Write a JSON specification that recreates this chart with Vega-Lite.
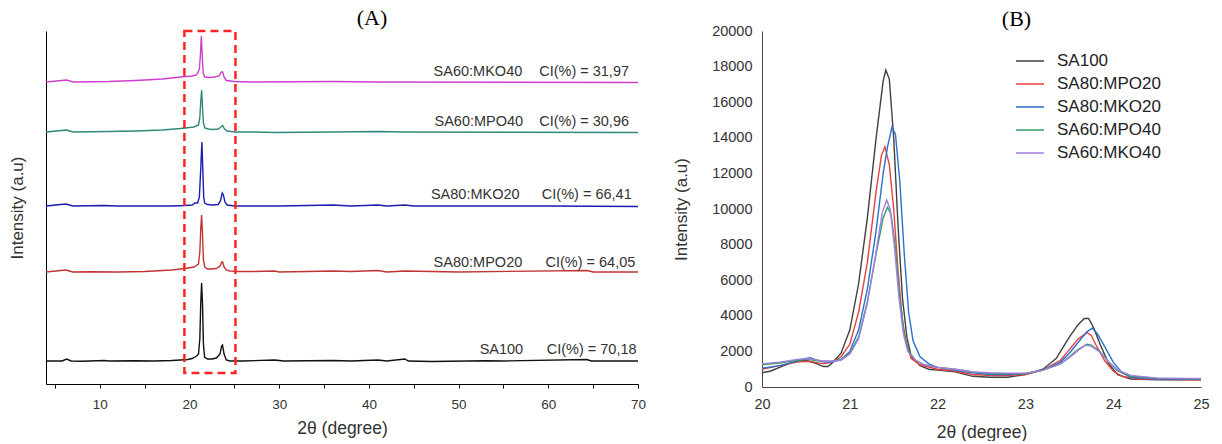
{
  "$schema": "https://vega.github.io/schema/vega-lite/v6.json",
  "padding": {"left": 8, "top": 6, "right": 4, "bottom": 0},
  "spacing": 26,
  "resolve": {"scale": {"color": "independent", "x": "independent", "y": "independent"}, "legend": {"color": "independent"}},
  "config": {
    "view": {"stroke": null},
    "font": "Liberation Sans",
    "axis": {"labelFont": "Liberation Sans", "titleFont": "Liberation Sans", "labelColor": "#333", "titleColor": "#333", "titleFontWeight": "normal", "grid": false, "labelFlush": false}
  },
  "datasets": {
    "a": [
      {"s":"SA100","x":4,"y":23},{"s":"SA100","x":5.8,"y":23},{"s":"SA100","x":6.3,"y":25},{"s":"SA100","x":6.8,"y":23},{"s":"SA100","x":8,"y":22.8},{"s":"SA100","x":10.5,"y":23.5},{"s":"SA100","x":11,"y":23},{"s":"SA100","x":14,"y":23.3},{"s":"SA100","x":16,"y":23},{"s":"SA100","x":18,"y":23.5},{"s":"SA100","x":19,"y":24},{"s":"SA100","x":19.8,"y":24.5},{"s":"SA100","x":20.3,"y":25.5},{"s":"SA100","x":20.8,"y":28},{"s":"SA100","x":21.0,"y":30},{"s":"SA100","x":21.15,"y":45},{"s":"SA100","x":21.25,"y":80},{"s":"SA100","x":21.35,"y":101},{"s":"SA100","x":21.45,"y":80},{"s":"SA100","x":21.55,"y":40},{"s":"SA100","x":21.68,"y":27},{"s":"SA100","x":22.0,"y":25},{"s":"SA100","x":22.5,"y":25},{"s":"SA100","x":23.0,"y":26},{"s":"SA100","x":23.4,"y":30},{"s":"SA100","x":23.58,"y":38},{"s":"SA100","x":23.68,"y":39},{"s":"SA100","x":23.85,"y":30},{"s":"SA100","x":24.1,"y":24},{"s":"SA100","x":24.5,"y":23},{"s":"SA100","x":26,"y":23},{"s":"SA100","x":29.5,"y":24},{"s":"SA100","x":30.5,"y":23},{"s":"SA100","x":36,"y":23.5},{"s":"SA100","x":38,"y":23},{"s":"SA100","x":41,"y":24},{"s":"SA100","x":42,"y":23},{"s":"SA100","x":44,"y":25},{"s":"SA100","x":44.4,"y":23},{"s":"SA100","x":47,"y":22.5},{"s":"SA100","x":51,"y":23},{"s":"SA100","x":53,"y":23.3},{"s":"SA100","x":55,"y":23},{"s":"SA100","x":64.3,"y":24.5},{"s":"SA100","x":64.8,"y":23},{"s":"SA100","x":70,"y":23},
      {"s":"SA80:MPO20","x":4,"y":112},{"s":"SA80:MPO20","x":6.2,"y":114},{"s":"SA80:MPO20","x":7,"y":112},{"s":"SA80:MPO20","x":9,"y":112.3},{"s":"SA80:MPO20","x":12,"y":112},{"s":"SA80:MPO20","x":15,"y":112.5},{"s":"SA80:MPO20","x":18,"y":114},{"s":"SA80:MPO20","x":19.5,"y":115.5},{"s":"SA80:MPO20","x":20.5,"y":117},{"s":"SA80:MPO20","x":21.0,"y":120},{"s":"SA80:MPO20","x":21.15,"y":132},{"s":"SA80:MPO20","x":21.25,"y":155},{"s":"SA80:MPO20","x":21.35,"y":169},{"s":"SA80:MPO20","x":21.45,"y":150},{"s":"SA80:MPO20","x":21.55,"y":124},{"s":"SA80:MPO20","x":21.7,"y":117},{"s":"SA80:MPO20","x":22,"y":115},{"s":"SA80:MPO20","x":22.5,"y":115},{"s":"SA80:MPO20","x":23.0,"y":115.5},{"s":"SA80:MPO20","x":23.4,"y":118},{"s":"SA80:MPO20","x":23.6,"y":122},{"s":"SA80:MPO20","x":23.7,"y":122},{"s":"SA80:MPO20","x":23.85,"y":117},{"s":"SA80:MPO20","x":24.1,"y":114},{"s":"SA80:MPO20","x":24.5,"y":113},{"s":"SA80:MPO20","x":25.5,"y":112.5},{"s":"SA80:MPO20","x":27,"y":112.5},{"s":"SA80:MPO20","x":29.5,"y":113},{"s":"SA80:MPO20","x":30,"y":112},{"s":"SA80:MPO20","x":36,"y":113},{"s":"SA80:MPO20","x":38,"y":112.5},{"s":"SA80:MPO20","x":41,"y":113.5},{"s":"SA80:MPO20","x":42,"y":112},{"s":"SA80:MPO20","x":44,"y":113},{"s":"SA80:MPO20","x":50,"y":112},{"s":"SA80:MPO20","x":64.3,"y":113.5},{"s":"SA80:MPO20","x":65,"y":112},{"s":"SA80:MPO20","x":70,"y":112},
      {"s":"SA80:MKO20","x":4,"y":178},{"s":"SA80:MKO20","x":6.2,"y":180},{"s":"SA80:MKO20","x":7,"y":178},{"s":"SA80:MKO20","x":10.5,"y":178.5},{"s":"SA80:MKO20","x":12,"y":178},{"s":"SA80:MKO20","x":18,"y":178},{"s":"SA80:MKO20","x":19.5,"y":178.5},{"s":"SA80:MKO20","x":20.3,"y":179},{"s":"SA80:MKO20","x":20.6,"y":181},{"s":"SA80:MKO20","x":20.9,"y":181},{"s":"SA80:MKO20","x":21.1,"y":187},{"s":"SA80:MKO20","x":21.25,"y":215},{"s":"SA80:MKO20","x":21.38,"y":242},{"s":"SA80:MKO20","x":21.48,"y":215},{"s":"SA80:MKO20","x":21.58,"y":187},{"s":"SA80:MKO20","x":21.7,"y":181},{"s":"SA80:MKO20","x":22,"y":179.5},{"s":"SA80:MKO20","x":22.5,"y":179},{"s":"SA80:MKO20","x":23.2,"y":179.5},{"s":"SA80:MKO20","x":23.45,"y":183},{"s":"SA80:MKO20","x":23.65,"y":191},{"s":"SA80:MKO20","x":23.78,"y":189},{"s":"SA80:MKO20","x":23.95,"y":182},{"s":"SA80:MKO20","x":24.2,"y":179},{"s":"SA80:MKO20","x":25,"y":178},{"s":"SA80:MKO20","x":30,"y":178},{"s":"SA80:MKO20","x":36,"y":179},{"s":"SA80:MKO20","x":38,"y":178},{"s":"SA80:MKO20","x":41,"y":179},{"s":"SA80:MKO20","x":42,"y":178},{"s":"SA80:MKO20","x":44,"y":179},{"s":"SA80:MKO20","x":45,"y":178},{"s":"SA80:MKO20","x":60,"y":178},{"s":"SA80:MKO20","x":70,"y":177.5},
      {"s":"SA60:MPO40","x":4,"y":252},{"s":"SA60:MPO40","x":6.3,"y":254},{"s":"SA60:MPO40","x":7,"y":252},{"s":"SA60:MPO40","x":11,"y":252.5},{"s":"SA60:MPO40","x":14,"y":253},{"s":"SA60:MPO40","x":17,"y":254},{"s":"SA60:MPO40","x":19,"y":255.5},{"s":"SA60:MPO40","x":20.5,"y":257},{"s":"SA60:MPO40","x":21.0,"y":259},{"s":"SA60:MPO40","x":21.15,"y":266},{"s":"SA60:MPO40","x":21.25,"y":282},{"s":"SA60:MPO40","x":21.35,"y":294},{"s":"SA60:MPO40","x":21.45,"y":277},{"s":"SA60:MPO40","x":21.55,"y":261},{"s":"SA60:MPO40","x":21.7,"y":256},{"s":"SA60:MPO40","x":22.1,"y":255},{"s":"SA60:MPO40","x":22.6,"y":254.5},{"s":"SA60:MPO40","x":23.2,"y":255},{"s":"SA60:MPO40","x":23.5,"y":257},{"s":"SA60:MPO40","x":23.7,"y":258.5},{"s":"SA60:MPO40","x":23.9,"y":255},{"s":"SA60:MPO40","x":24.2,"y":253},{"s":"SA60:MPO40","x":25,"y":252},{"s":"SA60:MPO40","x":27,"y":252},{"s":"SA60:MPO40","x":29.5,"y":251.5},{"s":"SA60:MPO40","x":36,"y":252},{"s":"SA60:MPO40","x":41,"y":252.5},{"s":"SA60:MPO40","x":44,"y":252},{"s":"SA60:MPO40","x":70,"y":251.5},
      {"s":"SA60:MKO40","x":4,"y":302},{"s":"SA60:MKO40","x":6.3,"y":304},{"s":"SA60:MKO40","x":7,"y":302},{"s":"SA60:MKO40","x":11,"y":302.5},{"s":"SA60:MKO40","x":14,"y":303.5},{"s":"SA60:MKO40","x":17,"y":305},{"s":"SA60:MKO40","x":19,"y":307},{"s":"SA60:MKO40","x":20.3,"y":308},{"s":"SA60:MKO40","x":20.8,"y":309},{"s":"SA60:MKO40","x":21.1,"y":315},{"s":"SA60:MKO40","x":21.22,"y":330},{"s":"SA60:MKO40","x":21.32,"y":348},{"s":"SA60:MKO40","x":21.42,"y":328},{"s":"SA60:MKO40","x":21.52,"y":311},{"s":"SA60:MKO40","x":21.7,"y":307},{"s":"SA60:MKO40","x":22.2,"y":306.5},{"s":"SA60:MKO40","x":22.8,"y":307},{"s":"SA60:MKO40","x":23.3,"y":308},{"s":"SA60:MKO40","x":23.55,"y":312},{"s":"SA60:MKO40","x":23.7,"y":312},{"s":"SA60:MKO40","x":23.85,"y":307},{"s":"SA60:MKO40","x":24.1,"y":303.5},{"s":"SA60:MKO40","x":25,"y":302.5},{"s":"SA60:MKO40","x":27,"y":302},{"s":"SA60:MKO40","x":36,"y":302.5},{"s":"SA60:MKO40","x":41,"y":302},{"s":"SA60:MKO40","x":70,"y":301.5}
    ],
    "labels": [
      {"name":"SA100","ci":"CI(%) = 70,18","xn":57.2,"xc":69.84,"y":33.7},
      {"name":"SA80:MPO20","ci":"CI(%) = 64,05","xn":57.1,"xc":69.7,"y":121},
      {"name":"SA80:MKO20","ci":"CI(%) = 66,41","xn":56.8,"xc":69.3,"y":189},
      {"name":"SA60:MPO40","ci":"CI(%) = 30,96","xn":57.2,"xc":69.0,"y":262},
      {"name":"SA60:MKO40","ci":"CI(%) = 31,97","xn":57.1,"xc":69.0,"y":312.5}
    ],
    "box": [{"x1":19.43,"x2":25.12,"y1":11,"y2":353}],
    "b": [
      {"s":"SA100","x":20.0,"y":800},{"s":"SA100","x":20.1,"y":900},{"s":"SA100","x":20.2,"y":1100},{"s":"SA100","x":20.3,"y":1300},{"s":"SA100","x":20.4,"y":1450},{"s":"SA100","x":20.5,"y":1500},{"s":"SA100","x":20.6,"y":1350},{"s":"SA100","x":20.7,"y":1150},{"s":"SA100","x":20.75,"y":1150},{"s":"SA100","x":20.8,"y":1350},{"s":"SA100","x":20.9,"y":1900},{"s":"SA100","x":21.0,"y":3200},{"s":"SA100","x":21.1,"y":5800},{"s":"SA100","x":21.2,"y":9500},{"s":"SA100","x":21.3,"y":14000},{"s":"SA100","x":21.38,"y":17200},{"s":"SA100","x":21.41,"y":17800},{"s":"SA100","x":21.45,"y":17300},{"s":"SA100","x":21.5,"y":14000},{"s":"SA100","x":21.55,"y":9000},{"s":"SA100","x":21.6,"y":5000},{"s":"SA100","x":21.65,"y":2800},{"s":"SA100","x":21.7,"y":1700},{"s":"SA100","x":21.8,"y":1200},{"s":"SA100","x":21.9,"y":1000},{"s":"SA100","x":22.0,"y":950},{"s":"SA100","x":22.2,"y":850},{"s":"SA100","x":22.4,"y":600},{"s":"SA100","x":22.6,"y":550},{"s":"SA100","x":22.8,"y":550},{"s":"SA100","x":23.0,"y":700},{"s":"SA100","x":23.2,"y":1000},{"s":"SA100","x":23.35,"y":1600},{"s":"SA100","x":23.5,"y":2800},{"s":"SA100","x":23.6,"y":3500},{"s":"SA100","x":23.67,"y":3850},{"s":"SA100","x":23.72,"y":3850},{"s":"SA100","x":23.78,"y":3300},{"s":"SA100","x":23.85,"y":2400},{"s":"SA100","x":23.95,"y":1300},{"s":"SA100","x":24.05,"y":700},{"s":"SA100","x":24.2,"y":450},{"s":"SA100","x":24.5,"y":400},{"s":"SA100","x":25.0,"y":400},
      {"s":"SA80:MPO20","x":20.0,"y":1000},{"s":"SA80:MPO20","x":20.2,"y":1200},{"s":"SA80:MPO20","x":20.4,"y":1400},{"s":"SA80:MPO20","x":20.5,"y":1450},{"s":"SA80:MPO20","x":20.6,"y":1400},{"s":"SA80:MPO20","x":20.7,"y":1300},{"s":"SA80:MPO20","x":20.8,"y":1400},{"s":"SA80:MPO20","x":20.9,"y":1700},{"s":"SA80:MPO20","x":21.0,"y":2400},{"s":"SA80:MPO20","x":21.1,"y":4200},{"s":"SA80:MPO20","x":21.2,"y":7000},{"s":"SA80:MPO20","x":21.3,"y":11000},{"s":"SA80:MPO20","x":21.36,"y":13000},{"s":"SA80:MPO20","x":21.4,"y":13500},{"s":"SA80:MPO20","x":21.45,"y":12500},{"s":"SA80:MPO20","x":21.5,"y":10000},{"s":"SA80:MPO20","x":21.55,"y":6500},{"s":"SA80:MPO20","x":21.6,"y":3700},{"s":"SA80:MPO20","x":21.65,"y":2300},{"s":"SA80:MPO20","x":21.7,"y":1600},{"s":"SA80:MPO20","x":21.8,"y":1250},{"s":"SA80:MPO20","x":22.0,"y":1000},{"s":"SA80:MPO20","x":22.2,"y":900},{"s":"SA80:MPO20","x":22.4,"y":700},{"s":"SA80:MPO20","x":22.6,"y":650},{"s":"SA80:MPO20","x":22.8,"y":650},{"s":"SA80:MPO20","x":23.0,"y":700},{"s":"SA80:MPO20","x":23.2,"y":950},{"s":"SA80:MPO20","x":23.4,"y":1500},{"s":"SA80:MPO20","x":23.5,"y":2100},{"s":"SA80:MPO20","x":23.6,"y":2700},{"s":"SA80:MPO20","x":23.7,"y":3050},{"s":"SA80:MPO20","x":23.75,"y":2900},{"s":"SA80:MPO20","x":23.8,"y":2400},{"s":"SA80:MPO20","x":23.9,"y":1500},{"s":"SA80:MPO20","x":24.0,"y":900},{"s":"SA80:MPO20","x":24.1,"y":600},{"s":"SA80:MPO20","x":24.3,"y":450},{"s":"SA80:MPO20","x":25.0,"y":400},
      {"s":"SA80:MKO20","x":20.0,"y":1050},{"s":"SA80:MKO20","x":20.2,"y":1200},{"s":"SA80:MKO20","x":20.4,"y":1450},{"s":"SA80:MKO20","x":20.5,"y":1600},{"s":"SA80:MKO20","x":20.55,"y":1650},{"s":"SA80:MKO20","x":20.6,"y":1550},{"s":"SA80:MKO20","x":20.7,"y":1400},{"s":"SA80:MKO20","x":20.8,"y":1400},{"s":"SA80:MKO20","x":20.9,"y":1550},{"s":"SA80:MKO20","x":21.0,"y":2000},{"s":"SA80:MKO20","x":21.1,"y":3200},{"s":"SA80:MKO20","x":21.2,"y":5500},{"s":"SA80:MKO20","x":21.3,"y":8800},{"s":"SA80:MKO20","x":21.38,"y":12000},{"s":"SA80:MKO20","x":21.43,"y":13500},{"s":"SA80:MKO20","x":21.48,"y":14600},{"s":"SA80:MKO20","x":21.52,"y":14200},{"s":"SA80:MKO20","x":21.57,"y":11500},{"s":"SA80:MKO20","x":21.62,"y":7500},{"s":"SA80:MKO20","x":21.67,"y":4200},{"s":"SA80:MKO20","x":21.72,"y":2600},{"s":"SA80:MKO20","x":21.8,"y":1700},{"s":"SA80:MKO20","x":21.9,"y":1300},{"s":"SA80:MKO20","x":22.0,"y":1100},{"s":"SA80:MKO20","x":22.2,"y":950},{"s":"SA80:MKO20","x":22.4,"y":800},{"s":"SA80:MKO20","x":22.6,"y":700},{"s":"SA80:MKO20","x":22.8,"y":700},{"s":"SA80:MKO20","x":23.0,"y":750},{"s":"SA80:MKO20","x":23.2,"y":950},{"s":"SA80:MKO20","x":23.4,"y":1400},{"s":"SA80:MKO20","x":23.5,"y":1900},{"s":"SA80:MKO20","x":23.6,"y":2500},{"s":"SA80:MKO20","x":23.7,"y":3100},{"s":"SA80:MKO20","x":23.76,"y":3300},{"s":"SA80:MKO20","x":23.82,"y":3000},{"s":"SA80:MKO20","x":23.9,"y":2300},{"s":"SA80:MKO20","x":24.0,"y":1400},{"s":"SA80:MKO20","x":24.1,"y":800},{"s":"SA80:MKO20","x":24.2,"y":550},{"s":"SA80:MKO20","x":24.5,"y":450},{"s":"SA80:MKO20","x":25.0,"y":450},
      {"s":"SA60:MPO40","x":20.0,"y":1250},{"s":"SA60:MPO40","x":20.2,"y":1350},{"s":"SA60:MPO40","x":20.4,"y":1500},{"s":"SA60:MPO40","x":20.5,"y":1550},{"s":"SA60:MPO40","x":20.6,"y":1500},{"s":"SA60:MPO40","x":20.7,"y":1450},{"s":"SA60:MPO40","x":20.8,"y":1450},{"s":"SA60:MPO40","x":20.9,"y":1550},{"s":"SA60:MPO40","x":21.0,"y":1900},{"s":"SA60:MPO40","x":21.1,"y":2800},{"s":"SA60:MPO40","x":21.2,"y":4800},{"s":"SA60:MPO40","x":21.3,"y":7500},{"s":"SA60:MPO40","x":21.38,"y":9500},{"s":"SA60:MPO40","x":21.43,"y":10100},{"s":"SA60:MPO40","x":21.47,"y":9700},{"s":"SA60:MPO40","x":21.52,"y":7800},{"s":"SA60:MPO40","x":21.57,"y":5000},{"s":"SA60:MPO40","x":21.62,"y":3000},{"s":"SA60:MPO40","x":21.67,"y":2000},{"s":"SA60:MPO40","x":21.75,"y":1500},{"s":"SA60:MPO40","x":21.85,"y":1250},{"s":"SA60:MPO40","x":22.0,"y":1100},{"s":"SA60:MPO40","x":22.2,"y":1000},{"s":"SA60:MPO40","x":22.4,"y":850},{"s":"SA60:MPO40","x":22.6,"y":750},{"s":"SA60:MPO40","x":22.8,"y":750},{"s":"SA60:MPO40","x":23.0,"y":750},{"s":"SA60:MPO40","x":23.2,"y":950},{"s":"SA60:MPO40","x":23.4,"y":1300},{"s":"SA60:MPO40","x":23.5,"y":1700},{"s":"SA60:MPO40","x":23.6,"y":2100},{"s":"SA60:MPO40","x":23.7,"y":2400},{"s":"SA60:MPO40","x":23.75,"y":2350},{"s":"SA60:MPO40","x":23.85,"y":2000},{"s":"SA60:MPO40","x":23.95,"y":1400},{"s":"SA60:MPO40","x":24.05,"y":900},{"s":"SA60:MPO40","x":24.2,"y":600},{"s":"SA60:MPO40","x":24.5,"y":500},{"s":"SA60:MPO40","x":25.0,"y":450},
      {"s":"SA60:MKO40","x":20.0,"y":1300},{"s":"SA60:MKO40","x":20.2,"y":1400},{"s":"SA60:MKO40","x":20.4,"y":1550},{"s":"SA60:MKO40","x":20.5,"y":1600},{"s":"SA60:MKO40","x":20.6,"y":1550},{"s":"SA60:MKO40","x":20.7,"y":1450},{"s":"SA60:MKO40","x":20.8,"y":1450},{"s":"SA60:MKO40","x":20.9,"y":1500},{"s":"SA60:MKO40","x":21.0,"y":1850},{"s":"SA60:MKO40","x":21.1,"y":2700},{"s":"SA60:MKO40","x":21.2,"y":4700},{"s":"SA60:MKO40","x":21.3,"y":7600},{"s":"SA60:MKO40","x":21.37,"y":9800},{"s":"SA60:MKO40","x":21.42,"y":10500},{"s":"SA60:MKO40","x":21.46,"y":10000},{"s":"SA60:MKO40","x":21.51,"y":7800},{"s":"SA60:MKO40","x":21.56,"y":5000},{"s":"SA60:MKO40","x":21.61,"y":3000},{"s":"SA60:MKO40","x":21.66,"y":2000},{"s":"SA60:MKO40","x":21.75,"y":1500},{"s":"SA60:MKO40","x":21.85,"y":1250},{"s":"SA60:MKO40","x":22.0,"y":1100},{"s":"SA60:MKO40","x":22.2,"y":1000},{"s":"SA60:MKO40","x":22.4,"y":850},{"s":"SA60:MKO40","x":22.6,"y":800},{"s":"SA60:MKO40","x":22.8,"y":780},{"s":"SA60:MKO40","x":23.0,"y":780},{"s":"SA60:MKO40","x":23.2,"y":950},{"s":"SA60:MKO40","x":23.4,"y":1300},{"s":"SA60:MKO40","x":23.5,"y":1650},{"s":"SA60:MKO40","x":23.6,"y":2050},{"s":"SA60:MKO40","x":23.68,"y":2350},{"s":"SA60:MKO40","x":23.75,"y":2300},{"s":"SA60:MKO40","x":23.85,"y":1950},{"s":"SA60:MKO40","x":23.95,"y":1400},{"s":"SA60:MKO40","x":24.05,"y":950},{"s":"SA60:MKO40","x":24.2,"y":650},{"s":"SA60:MKO40","x":24.5,"y":500},{"s":"SA60:MKO40","x":25.0,"y":480}
    ]
  },
  "hconcat": [
    {
      "width": 592,
      "height": 353,
      "title": {"text": "(A)", "font": "Liberation Serif", "fontSize": 22, "fontWeight": "normal", "color": "#000", "dx": 30, "offset": 0},
      "layer": [
        {
          "data": {"name": "a"},
          "mark": {"type": "line", "strokeWidth": 1.4},
          "encoding": {
            "x": {"field": "x", "type": "quantitative", "scale": {"domain": [4, 70], "nice": false, "zero": false},
              "axis": {"title": "2θ (degree)", "titleFontSize": 17.5, "titlePadding": 9, "values": [5,10,15,20,25,30,35,40,45,50,55,60,65,70], "labelExpr": "datum.value % 10 === 0 ? datum.label : ''", "tickSize": 4, "tickColor": "#000", "domainColor": "#000", "labelFontSize": 13.5, "labelPadding": 9, "labelFlush": false}},
            "y": {"field": "y", "type": "quantitative", "scale": {"domain": [0, 353], "nice": false, "zero": false},
              "axis": {"title": "Intensity (a.u)", "titleFontSize": 17, "labels": false, "ticks": false, "domainColor": "#000", "titlePadding": 20}},
            "color": {"field": "s", "type": "nominal", "scale": {"domain": ["SA100","SA80:MPO20","SA80:MKO20","SA60:MPO40","SA60:MKO40"], "range": ["#111111","#c23434","#1c1cb0","#2e8878","#cc3fcc"]}, "legend": null}
          }
        },
        {
          "data": {"name": "box"},
          "mark": {"type": "rect", "fill": null, "stroke": "#ff2424", "strokeWidth": 2.5, "strokeDash": [8, 5]},
          "encoding": {"x": {"field": "x1", "type": "quantitative"}, "x2": {"field": "x2"}, "y": {"field": "y1", "type": "quantitative"}, "y2": {"field": "y2"}}
        },
        {
          "data": {"name": "labels"},
          "mark": {"type": "text", "align": "right", "baseline": "middle", "fontSize": 14.5, "color": "#333"},
          "encoding": {"x": {"field": "xn", "type": "quantitative"}, "y": {"field": "y", "type": "quantitative"}, "text": {"field": "name"}}
        },
        {
          "data": {"name": "labels"},
          "mark": {"type": "text", "align": "right", "baseline": "middle", "fontSize": 14.5, "color": "#333"},
          "encoding": {"x": {"field": "xc", "type": "quantitative"}, "y": {"field": "y", "type": "quantitative"}, "text": {"field": "ci"}}
        }
      ]
    },
    {
      "width": 439,
      "height": 356,
      "title": {"text": "(B)", "font": "Liberation Serif", "fontSize": 22, "fontWeight": "normal", "color": "#000", "dx": 35, "offset": -8},
      "data": {"name": "b"},
      "mark": {"type": "line", "strokeWidth": 1.4},
      "encoding": {
        "x": {"field": "x", "type": "quantitative", "scale": {"domain": [20, 25], "nice": false, "zero": false},
          "axis": {"title": "2θ (degree)", "titleFontSize": 17.5, "titlePadding": 13, "values": [20,21,22,23,24,25], "ticks": false, "domainColor": "#444", "labelFontSize": 14.5, "labelPadding": 10, "labelFlush": false}},
        "y": {"field": "y", "type": "quantitative", "scale": {"domain": [0, 20000], "nice": false},
          "axis": {"title": "Intensity (a.u)", "titleFontSize": 17, "values": [0,2000,4000,6000,8000,10000,12000,14000,16000,18000,20000], "format": "d", "ticks": false, "domainColor": "#444", "labelFontSize": 14.5, "labelPadding": 10, "titlePadding": 21}},
        "color": {"field": "s", "type": "nominal", "scale": {"domain": ["SA100","SA80:MPO20","SA80:MKO20","SA60:MPO40","SA60:MKO40"], "range": ["#404040","#e8413c","#2b70cc","#2f9e6a","#a77de0"]},
          "legend": {"title": null, "orient": "none", "legendX": 253, "legendY": 15, "symbolType": "stroke", "symbolSize": 784, "symbolStrokeWidth": 1.5, "labelFontSize": 17, "labelColor": "#222", "labelFont": "Liberation Sans", "rowPadding": -6, "labelOffset": 12}}
      }
    }
  ]
}
